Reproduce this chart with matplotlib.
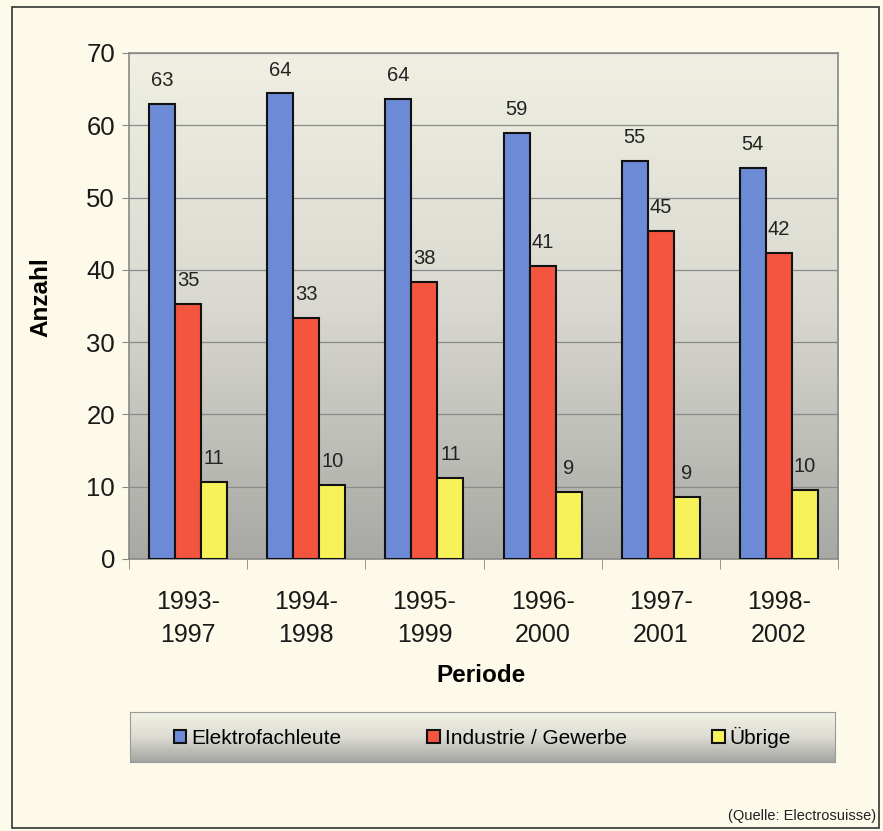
import numpy as np
import matplotlib
matplotlib.use("Agg")
import matplotlib.pyplot as plt
from matplotlib.patches import Rectangle
from matplotlib.colors import LinearSegmentedColormap

plt.rcParams['font.family'] = ['Liberation Sans', 'DejaVu Sans']

categories = ["1993-\n1997", "1994-\n1998", "1995-\n1999", "1996-\n2000", "1997-\n2001", "1998-\n2002"]
series_names = ["Elektrofachleute", "Industrie / Gewerbe", "Übrige"]
elektro = [62.9, 64.4, 63.7, 58.9, 55.1, 54.1]
industrie = [35.3, 33.4, 38.3, 40.6, 45.4, 42.4]
uebrige = [10.6, 10.2, 11.2, 9.3, 8.6, 9.5]
labels_elektro = [63, 64, 64, 59, 55, 54]
labels_industrie = [35, 33, 38, 41, 45, 42]
labels_uebrige = [11, 10, 11, 9, 9, 10]
colors = ["#6c8ad6", "#f4553f", "#f7f25a"]

W, H = 883, 831
fig = plt.figure(figsize=(W/100, H/100), dpi=100)
fig.patch.set_facecolor("#fdfae9")

# outer frame
frame = Rectangle((12/W, 1-828/H), (879-12)/W, (828-7)/H, transform=fig.transFigure,
                  fill=False, edgecolor="#333333", linewidth=1.2)
fig.patches.append(frame)

ax = fig.add_axes([129/W, 1-559/H, (838-129)/W, (559-53)/H])
n = len(categories)
x = np.arange(n)
bw = 0.22

# gradient background (light at top, grey at bottom)
grad = np.linspace(0, 1, 256).reshape(-1, 1)
cmap_bg = LinearSegmentedColormap.from_list("bg", ["#f0efe2", "#d9d9d1", "#a8a8a4"])
ax.imshow(grad, aspect="auto", cmap=cmap_bg, origin="upper",
          extent=[-0.5, n-0.5, 0, 70], zorder=0)

ax.set_xlim(-0.5, n-0.5)
ax.set_ylim(0, 70)

all_vals = [elektro, industrie, uebrige]
all_labels = [labels_elektro, labels_industrie, labels_uebrige]
handles = []
for i, (vals, labs, c) in enumerate(zip(all_vals, all_labels, colors)):
    pos = x + (i-1)*bw
    b = ax.bar(pos, vals, width=bw, color=c, edgecolor="#111111", linewidth=1.5, zorder=3)
    handles.append(b)
    for p, v, l in zip(pos, vals, labs):
        ax.annotate(str(l), (p, v), xytext=(0, 10), textcoords="offset points",
                    ha="center", va="bottom", fontsize=14.5, color="#222222", zorder=4)

ax.yaxis.grid(True, color="#8a8a8a", linewidth=0.9, zorder=1)
ax.set_axisbelow(False)
ax.set_yticks(range(0, 71, 10))
ax.tick_params(axis="y", labelsize=18.5, length=5, color="#888888", pad=5, labelcolor="#1a1a1a")
ax.set_xticks(x)
ax.set_xticklabels(categories, fontsize=18, linespacing=1.45, color="#1a1a1a")
ax.set_xticks(np.arange(-0.5, n), minor=True)
ax.tick_params(axis="x", which="major", length=0, pad=22.5)
ax.tick_params(axis="x", which="minor", length=7, color="#888888")
for s in ax.spines.values():
    s.set_color("#888888")
    s.set_linewidth(1.2)

ax.set_ylabel("Anzahl", fontsize=17.5, fontweight="bold", va="center")
ax.yaxis.set_label_coords((41-129)/709, (559-297)/506)
ax.set_xlabel("Periode", fontsize=17.5, fontweight="bold", va="center")
ax.xaxis.set_label_coords((481-129)/709, (559-676)/506)

# legend box with gradient
lax = fig.add_axes([130/W, 1-762/H, (835-130)/W, (762-712)/H])
cmap_lg = LinearSegmentedColormap.from_list("lg", ["#f3f2e6", "#dcdcd4", "#a4a4a2"])
lax.imshow(grad, aspect="auto", cmap=cmap_lg, origin="upper", extent=[0, 1, 0, 1], zorder=0)
lax.set_xlim(0, 1); lax.set_ylim(0, 1)
lax.set_xticks([]); lax.set_yticks([])
for s in lax.spines.values():
    s.set_color("#999999"); s.set_linewidth(0.8)
leg = lax.legend(handles, series_names, loc="center", ncol=3, frameon=False,
                 fontsize=15, handlelength=0.6, handleheight=0.6, handletextpad=0.25,
                 columnspacing=4.1)

fig.text(876/W, 1-816/H, "(Quelle: Electrosuisse)", ha="right", va="center", fontsize=10.5, color="#222222")

fig.savefig("out.png", dpi=100, facecolor=fig.get_facecolor())
